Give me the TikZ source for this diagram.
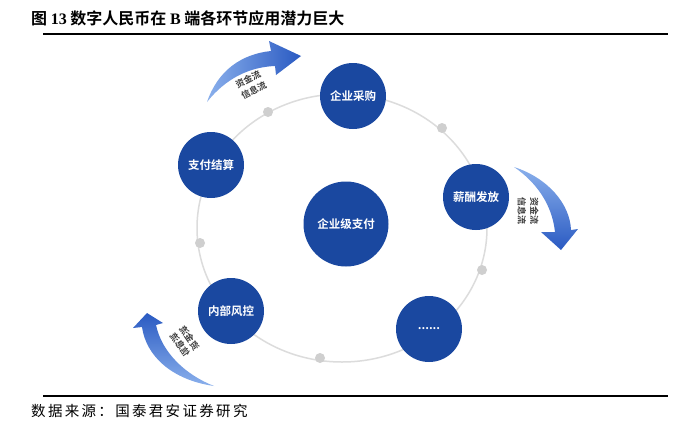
\documentclass[tikz,border=0pt]{standalone}
\usepackage{fontspec}
\usepackage{graphicx}
\newfontfamily\cjk[BoldFont={Noto Sans CJK SC Bold}]{Noto Sans CJK SC}
\newfontfamily\serifb[BoldFont={Liberation Serif Bold}]{Liberation Serif}
\definecolor{nodeblue}{HTML}{1A48A0}
\definecolor{ringgray}{HTML}{DCDCDC}
\definecolor{dotgray}{HTML}{CFCFCF}
\definecolor{txtgray}{HTML}{3C3C3C}
\definecolor{arrlight}{HTML}{8AB0EC}
\definecolor{arrdark}{HTML}{2A5AC2}
\begin{document}
\begin{tikzpicture}[x=1pt,y=-1pt,
  bnode/.style={circle, fill=nodeblue, inner sep=0pt, minimum size=66pt, text=white,
    font=\cjk\bfseries\fontsize{11.5}{12}\selectfont},
  gdot/.style={circle, fill=dotgray, inner sep=0pt, minimum size=10pt},
  flowtxt/.style={text=txtgray, font=\cjk\bfseries\fontsize{9}{12.5}\selectfont,
    align=center, inner sep=0pt},
  rule/.style={line width=1.6pt, black}]
\useasboundingbox (0,0) rectangle (700,434);
\fill[white] (0,0) rectangle (700,434);

% title
\node[anchor=west, inner sep=0pt] (title) at (31,18)
  {\cjk\bfseries\fontsize{16}{18}\selectfont 图 {\serifb\bfseries 13} 数字人民币在 {\serifb B} 端各环节应用潜力巨大};
\coordinate (tl) at (43,34);
\coordinate (tr) at (668,34);
\draw[rule] (tl) -- (tr);

% ring
\coordinate (ringc) at (342,228);
\draw[ringgray, line width=1.5pt] (ringc) ellipse [x radius=145, y radius=134];

% gray dots
\node[gdot] (d1) at (268,112) {};
\node[gdot] (d2) at (442,128) {};
\node[gdot] (d3) at (482,270) {};
\node[gdot] (d4) at (320,358) {};
\node[gdot] (d5) at (200,243) {};

% nodes
\node[bnode] (cg) at (353,96) {企业采购};
\node[bnode] (xc) at (476,197) {薪酬发放};
\node[bnode] (dots) at (429,329) {......};
\node[bnode] (fk) at (231,311) {内部风控};
\node[bnode] (zf) at (211,165) {支付结算};
\node[bnode, minimum size=85pt] (center) at (346,224) {企业级支付};

% arrow 1 (top-left)
\shade[left color=arrlight, right color=arrdark]
  (207,102) .. controls (218,70) and (242,54) .. (271,51)
  -- (269,41) -- (301,56) -- (276,75) -- (275,66)
  .. controls (250,67) and (226,78) .. (207,102) -- cycle;
\node[flowtxt, rotate=27] (t1) at (251,85) {资金流\\信息流};

% arrow 2 (right)
\shade[top color=arrlight, bottom color=arrdark]
  (514,167) .. controls (548,178) and (570,204) .. (571,230)
  -- (578,229) -- (561,250) -- (541,232) -- (555,232)
  .. controls (552,204) and (536,182) .. (514,167) -- cycle;
\node[flowtxt, rotate=-90] (t2) at (528,211) {资金流\\信息流};

% arrow 3 (bottom-left)
\shade[top color=arrdark, bottom color=arrlight]
  (214,386) .. controls (172,380) and (146,356) .. (142,327)
  -- (133,328) -- (147,313) -- (163,323) -- (156,325)
  .. controls (162,353) and (186,375) .. (214,386) -- cycle;
\node[flowtxt, rotate=-55] (t3) at (184,342) {\reflectbox{\begin{tabular}{@{}c@{}}资金流\\[-1pt]信息流\end{tabular}}};

% source
\coordinate (bl) at (43,396);
\coordinate (br) at (668,396);
\draw[line width=1.3pt, black] (bl) -- (br);
\node[anchor=west, inner sep=0pt] (src) at (31,411)
  {\cjk\addfontfeatures{LetterSpace=16}\fontsize{14.5}{16}\selectfont 数据来源：国泰君安证券研究};
\end{tikzpicture}
\end{document}
